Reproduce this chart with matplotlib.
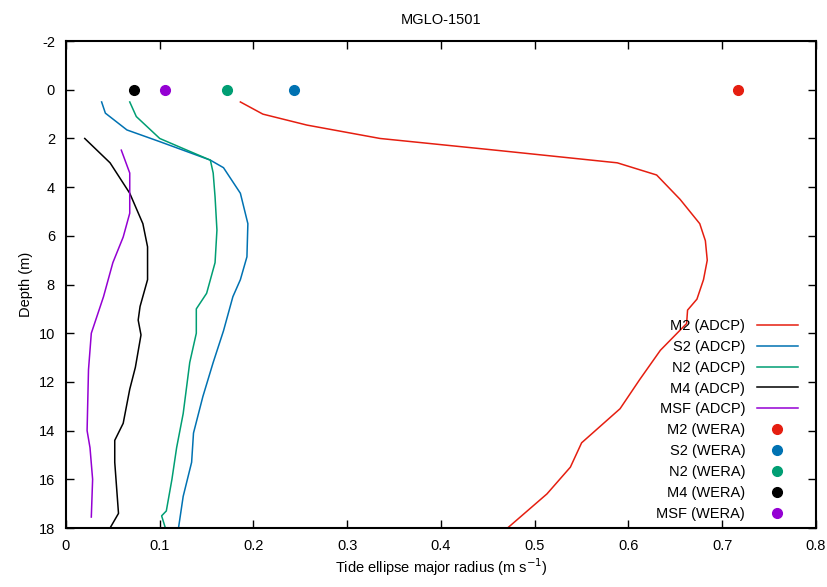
import numpy as np
import matplotlib.pyplot as plt

plt.rcParams['font.family'] = ['Liberation Sans', 'DejaVu Sans']
plt.rcParams['axes.unicode_minus'] = False

# ADCP profiles (depth in m, radius in m/s)
m2_depth = [0.5, 1.0, 1.45, 2.0, 2.5, 3.0, 3.5, 4.5, 5.5, 6.2, 7.0, 7.8, 8.6, 9.05, 9.6, 10.7, 11.9, 13.1, 14.5, 15.5, 16.6, 18.0]
m2_adcp = [0.186, 0.21, 0.257, 0.335, 0.463, 0.588, 0.630, 0.655, 0.676, 0.682, 0.684, 0.680, 0.673, 0.663, 0.662, 0.634, 0.612, 0.591, 0.550, 0.538, 0.513, 0.471]

s2_depth = [0.5, 0.96, 1.65, 2.13, 2.89, 3.2, 4.25, 5.5, 6.86, 7.8, 8.5, 9.9, 11.2, 12.6, 14.1, 15.3, 16.7, 18.0]
s2_adcp = [0.038, 0.042, 0.065, 0.100, 0.154, 0.168, 0.186, 0.194, 0.193, 0.186, 0.178, 0.168, 0.157, 0.146, 0.136, 0.134, 0.125, 0.120]

n2_depth = [0.5, 1.1, 2.0, 2.48, 2.89, 3.42, 4.4, 5.76, 7.1, 8.36, 9.0, 10.0, 11.2, 13.3, 14.7, 16.0, 17.3, 17.5, 18.0]
n2_adcp = [0.068, 0.075, 0.100, 0.129, 0.154, 0.157, 0.159, 0.161, 0.159, 0.150, 0.139, 0.139, 0.132, 0.125, 0.118, 0.113, 0.107, 0.102, 0.106]

m4_depth = [2.0, 3.0, 4.25, 5.5, 6.45, 7.8, 8.9, 9.46, 10.07, 11.4, 12.3, 13.7, 14.4, 15.3, 17.4, 18.0]
m4_adcp = [0.020, 0.047, 0.068, 0.082, 0.087, 0.087, 0.079, 0.077, 0.080, 0.074, 0.068, 0.061, 0.052, 0.052, 0.056, 0.047]

msf_depth = [2.48, 3.42, 5.07, 6.05, 7.1, 8.5, 10.0, 11.5, 14.0, 14.7, 16.0, 17.55]
msf_adcp = [0.059, 0.068, 0.068, 0.061, 0.050, 0.040, 0.027, 0.024, 0.0225, 0.0256, 0.0284, 0.027]

# WERA surface values (depth 0)
constituents = ['M2', 'S2', 'N2', 'M4', 'MSF']
wera = [0.717, 0.243, 0.172, 0.0725, 0.106]
colors = ['#e51e10', '#0072b2', '#009e73', 'black', '#9400d3']

fig = plt.figure(figsize=(8.27, 5.87), dpi=100)
ax = fig.add_axes([0.0798, 0.1005, 0.9069, 0.8295])

profiles = [(m2_adcp, m2_depth), (s2_adcp, s2_depth), (n2_adcp, n2_depth),
            (m4_adcp, m4_depth), (msf_adcp, msf_depth)]
for name, (x, d), c in zip(constituents, profiles, colors):
    ax.plot(x, d, color=c, lw=1.1, label=name + ' (ADCP)')
for name, w, c in zip(constituents, wera, colors):
    ax.plot([w], [0], 'o', color=c, ms=7, label=name + ' (WERA)')

ax.set_xlim(0, 0.8)
ax.set_ylim(18, -2)
ax.set_xticks(np.arange(0, 0.81, 0.1))
ax.set_xticklabels(['0', '0.1', '0.2', '0.3', '0.4', '0.5', '0.6', '0.7', '0.8'])
ax.set_yticks(np.arange(-2, 19, 2))
ax.tick_params(direction='in', top=True, right=True, length=6, width=1, labelsize=10.5, pad=8)
for s in ax.spines.values():
    s.set_linewidth(1.5)

ax.set_title('MGLO-1501', fontsize=10.5, pad=12)
ax.set_xlabel('Tide ellipse major radius (m s$^{-1}$)', fontsize=10.5, labelpad=2)
ax.set_ylabel('Depth (m)', fontsize=10.5)

ax.legend(loc='lower right', bbox_to_anchor=(0.993, -0.012), frameon=False, markerfirst=False,
          fontsize=10.5, handlelength=2.8, labelspacing=0.47, numpoints=1, handletextpad=0.8)

fig.savefig('out.png', dpi=100)
